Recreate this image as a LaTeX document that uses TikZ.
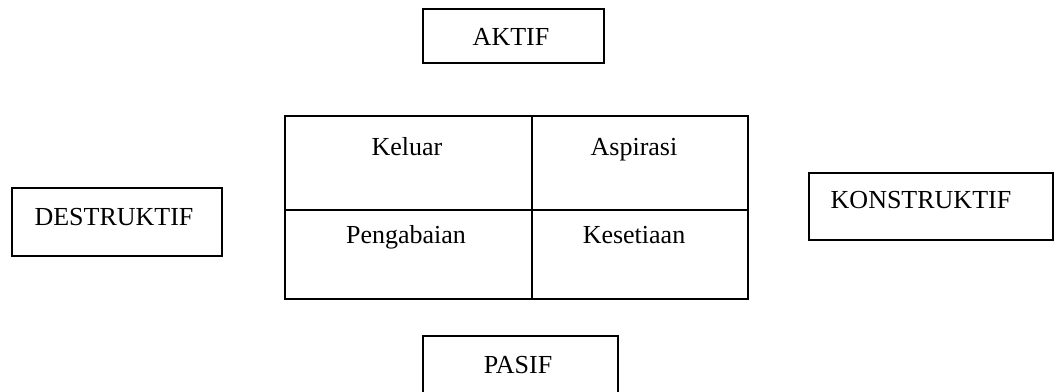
\documentclass[tikz,border=0pt]{standalone}
\usepackage{fontspec}
\setmainfont{Liberation Serif}

\begin{document}
\begin{tikzpicture}[x=0.5pt,y=-0.5pt,
  kotak/.style={draw,line width=1pt,inner sep=0pt},
  teks/.style={anchor=base,inner sep=0pt,font=\fontsize{13}{15}\selectfont}]
\useasboundingbox (0,0) rectangle (1055,391);
\clip (0,0) rectangle (1055,391);

% kotak luar
\draw (513.5,36)  node (aktif) [kotak,minimum width=90.5pt,minimum height=27pt] {};
\draw (117,222)   node (des)   [kotak,minimum width=105pt,minimum height=34pt] {};
\draw (931,206.5) node (kon)   [kotak,minimum width=122pt,minimum height=33.5pt] {};
\draw (520.5,368) node (pasif) [kotak,minimum width=97.5pt,minimum height=32pt] {};

% kotak tengah
\draw (408.5,163)   node (kel) [kotak,minimum width=123.5pt,minimum height=47pt] {};
\draw (640,163)     node (asp) [kotak,minimum width=108pt,minimum height=47pt] {};
\draw (408.5,254.5) node (pen) [kotak,minimum width=123.5pt,minimum height=44.5pt] {};
\draw (640,254.5)   node (kes) [kotak,minimum width=108pt,minimum height=44.5pt] {};

\node (tAktif) [teks] at (511,45)  {AKTIF};
\node (tDes)   [teks] at (114,225) {DESTRUKTIF};
\node (tKon)   [teks] at (921,208) {KONSTRUKTIF};
\node (tPasif) [teks] at (518,373) {PASIF};
\node (tKel)   [teks] at (407,155) {Keluar};
\node (tAsp)   [teks] at (634,155) {Aspirasi};
\node (tPen)   [teks] at (406,243) {Pengabaian};
\node (tKes)   [teks] at (634,243) {Kesetiaan};

\end{tikzpicture}
\end{document}
